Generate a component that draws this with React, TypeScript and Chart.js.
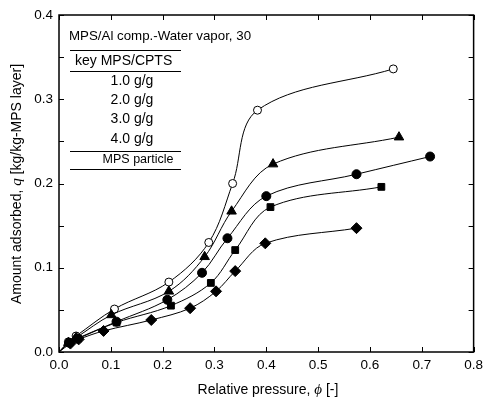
import React, { useEffect, useRef } from "react";
import { Chart, registerables } from "chart.js";

Chart.register(...registerables);

const FONT = "'Liberation Sans', Arial, sans-serif";

const xTickValues = [0, 0.1, 0.2, 0.3, 0.4, 0.5, 0.6, 0.7, 0.8];
const yTickValues = [0, 0.1, 0.2, 0.3, 0.4];

const chartTitle = "MPS/Al comp.-Water vapor, 30";
const legendHeader = "key MPS/CPTS";
const seriesLabels = ["1.0 g/g", "2.0 g/g", "3.0 g/g", "4.0 g/g", "MPS particle"];

const phi1 = [0, 0.018, 0.033, 0.107, 0.212, 0.289, 0.335, 0.383, 0.645];
const q1 = [0, 0.012, 0.019, 0.051, 0.083, 0.13, 0.2, 0.287, 0.336];

const phi2 = [0, 0.018, 0.033, 0.101, 0.212, 0.281, 0.333, 0.413, 0.656];
const q2 = [0, 0.011, 0.017, 0.044, 0.072, 0.113, 0.167, 0.223, 0.255];

const phi3 = [0, 0.02, 0.035, 0.111, 0.209, 0.276, 0.325, 0.4, 0.574, 0.716];
const q3 = [0, 0.011, 0.016, 0.036, 0.062, 0.094, 0.135, 0.185, 0.211, 0.232];

const phi4 = [0, 0.02, 0.037, 0.111, 0.216, 0.293, 0.34, 0.408, 0.622];
const q4 = [0, 0.011, 0.016, 0.035, 0.055, 0.082, 0.121, 0.172, 0.196];

const phi5 = [0, 0.022, 0.038, 0.086, 0.178, 0.253, 0.303, 0.34, 0.398, 0.574];
const q5 = [0, 0.01, 0.015, 0.025, 0.038, 0.052, 0.072, 0.096, 0.129, 0.147];

const toPts = (xs: number[], ys: number[]) => xs.map((x, i) => ({ x, y: ys[i] }));

const framePlugin = {
  id: "framePlugin",
  afterDatasetsDraw(chart: any) {
    const { ctx, chartArea, scales } = chart;
    const { left, right, top, bottom } = chartArea;
    const xs = scales.x;
    const ys = scales.y;
    ctx.save();
    ctx.strokeStyle = "#000";
    ctx.lineWidth = 1.5;
    ctx.strokeRect(left, top, right - left, bottom - top);
    ctx.lineWidth = 1;
    const tl = 5;
    ctx.beginPath();
    for (const v of xTickValues) {
      const px = Math.round(xs.getPixelForValue(v)) + 0.5;
      ctx.moveTo(px, bottom);
      ctx.lineTo(px, bottom - tl);
      ctx.moveTo(px, top);
      ctx.lineTo(px, top + tl);
    }
    for (let i = 0; i <= 8; i++) {
      const v = i * 0.05;
      const py = Math.round(ys.getPixelForValue(v)) + 0.5;
      ctx.moveTo(left, py);
      ctx.lineTo(left + tl, py);
      ctx.moveTo(right, py);
      ctx.lineTo(right - tl, py);
    }
    ctx.stroke();

    // legend block
    ctx.fillStyle = "#000";
    ctx.font = `13.3px ${FONT}`;
    ctx.textBaseline = "middle";
    ctx.textAlign = "left";
    ctx.fillText(chartTitle, 69, 36);
    ctx.beginPath();
    const lx0 = 70, lx1 = 181;
    for (const ly of [50.5, 71.5, 151.5, 169.5]) {
      ctx.moveTo(lx0, ly);
      ctx.lineTo(lx1, ly);
    }
    ctx.lineWidth = 1;
    ctx.stroke();
    ctx.font = `14px ${FONT}`;
    ctx.textAlign = "left";
    ctx.fillText(legendHeader, 75, 61);
    ctx.textAlign = "center";
    const rows = [81, 100, 119, 139];
    for (let i = 0; i < 4; i++) ctx.fillText(seriesLabels[i], 132, rows[i]);
    ctx.font = `12.5px ${FONT}`;
    ctx.fillText(seriesLabels[4], 138, 160);

    // axis titles with italic symbols
    const drawMixed = (parts: [string, boolean][], cx: number, cy: number) => {
      let total = 0;
      const fontOf = (it: boolean) => (it ? `italic 15px 'Liberation Serif', serif` : `14px ${FONT}`);
      const widths = parts.map(([t, it]) => {
        ctx.font = fontOf(it);
        const w = ctx.measureText(t).width;
        total += w;
        return w;
      });
      let x = cx - total / 2;
      ctx.textAlign = "left";
      parts.forEach(([t, it], i) => {
        ctx.font = fontOf(it);
        ctx.fillText(t, x, cy);
        x += widths[i];
      });
    };
    drawMixed([["Relative pressure, ", false], ["\u03d5", true], [" [-]", false]], 268, 390);
    ctx.save();
    ctx.translate(17, 184);
    ctx.rotate(-Math.PI / 2);
    drawMixed([["Amount adsorbed, ", false], ["q", true], [" [kg/kg-MPS layer]", false]], 0, 0);
    ctx.restore();
    ctx.restore();
  },
};

function radii(n: number, r: number) {
  return Array.from({ length: n }, (_, i) => (i === 0 ? 0 : r));
}

export default function App() {
  const ref = useRef<HTMLCanvasElement>(null);
  useEffect(() => {
    document.body.style.margin = "0";
    const canvas = ref.current!;
    const base = {
      borderColor: "#000",
      borderWidth: 1,
      tension: 0.35,
      pointBorderColor: "#000",
      pointBorderWidth: 1,
      showLine: true,
    };
    const chart = new Chart(canvas, {
      type: "scatter",
      data: {
        datasets: [
          { ...base, order: 10, label: seriesLabels[0], data: toPts(phi1, q1), pointStyle: "circle", pointRadius: radii(phi1.length, 4), backgroundColor: "#fff" },
          { ...base, order: 4, label: seriesLabels[1], data: toPts(phi2, q2), pointStyle: "triangle", pointRadius: radii(phi2.length, 5.5), backgroundColor: "#000" },
          { ...base, order: 3, label: seriesLabels[2], data: toPts(phi3, q3), pointStyle: "circle", pointRadius: radii(phi3.length, 4.5), backgroundColor: "#000" },
          { ...base, order: 2, label: seriesLabels[3], data: toPts(phi4, q4), pointStyle: "rect", pointRadius: radii(phi4.length, 4.8), backgroundColor: "#000" },
          { ...base, order: 1, label: seriesLabels[4], data: toPts(phi5, q5), pointStyle: "rectRot", pointRadius: radii(phi5.length, 5.5), backgroundColor: "#000" },
        ],
      },
      options: {
        responsive: false,
        animation: false,
        layout: { padding: { left: 0, top: 15, right: 11, bottom: 0 } },
        plugins: { legend: { display: false }, tooltip: { enabled: false } },
        scales: {
          x: {
            type: "linear",
            min: 0,
            max: 0.8,
            afterBuildTicks: (s: any) => { s.ticks = xTickValues.map((v) => ({ value: v })); },
            afterFit: (s: any) => { s.height = 47; },
            grid: { display: false, drawTicks: false },
            border: { display: false },
            ticks: { color: "#000", font: { family: FONT, size: 13.5 }, padding: 5, callback: (v: any) => Number(v).toFixed(1), maxRotation: 0 },
          },
          y: {
            type: "linear",
            min: 0,
            max: 0.4,
            afterBuildTicks: (s: any) => { s.ticks = yTickValues.map((v) => ({ value: v })); },
            afterFit: (s: any) => { s.width = 59; },
            grid: { display: false, drawTicks: false },
            border: { display: false },
            ticks: { color: "#000", font: { family: FONT, size: 13.5 }, padding: 6, callback: (v: any) => Number(v).toFixed(1) },
          },
        },
      },
      plugins: [framePlugin],
    });
    return () => chart.destroy();
  }, []);
  return <canvas ref={ref} width={488} height={399} style={{ display: "block" }} />;
}
